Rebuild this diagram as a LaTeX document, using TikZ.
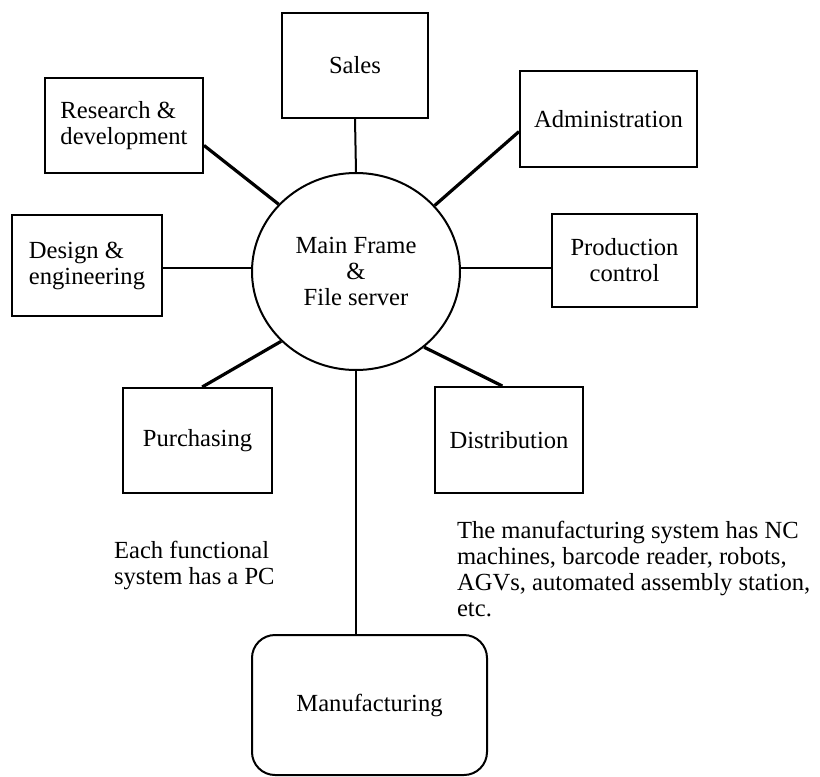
\documentclass[tikz,border=0pt]{standalone}
\usepackage{fontspec}
\setmainfont{Liberation Serif}
\usetikzlibrary{shapes.geometric}
\tikzset{
  unit/.style={draw, line width=1pt, inner sep=0pt, align=center},
  link/.style={line width=1pt},
  diag/.style={line width=1.6pt},
}

\begin{document}
\begin{tikzpicture}[x=0.5pt, y=-0.5pt, font=\fontsize{12.3}{13}\selectfont]
\useasboundingbox (0,0) rectangle (820,777);

\node[unit, ellipse, minimum width=104pt, minimum height=98.5pt] (mf) at (356,271.5) {Main Frame\\\&\\File server};

\node[unit, minimum width=73pt, minimum height=52.5pt] (sales) at (355,65.5) {Sales};
\node[unit, align=left, minimum width=79pt, minimum height=47.5pt] (rnd) at (124,125.5) {Research \&\\development};
\node[unit, minimum width=88.5pt, minimum height=48pt] (admin) at (608.5,119) {Administration};
\node[unit, align=left, minimum width=75pt, minimum height=50.5pt] (design) at (87,265.5) {Design \&\\engineering};
\node[unit, minimum width=72.5pt, minimum height=46.5pt] (prod) at (624.5,260.5) {Production\\control};
\node[unit, minimum width=74.5pt, minimum height=52.5pt] (purch) at (197.5,440.5) {Purchasing};
\node[unit, minimum width=74pt, minimum height=53pt] (dist) at (509,440) {Distribution};
\node[unit, rounded corners=11.5pt, minimum width=117.5pt, minimum height=70pt] (manuf) at (369.5,705) {Manufacturing};

%\fill (mf) circle(3pt);
\draw[link] (sales.south) -- (mf.north);
\draw[diag] (rnd.-14) -- (mf.139.5);
\draw[diag] (admin.188) -- (mf.40.5);
\draw[link] (mf.178) -- (mf.178 -| design.east);
\draw[link] (mf.2) -- (mf.2 -| prod.west);
\draw[diag] (mf.223) -- (purch.85);
\draw[diag] (mf.312.5) -- (dist.97);
\draw[link] (mf.south) -- (mf.south |- manuf.north);

\node[anchor=west, align=left] (note) at (107,565) {Each functional\\system has a PC};
\node[anchor=west, align=left] (mnote) at (450,569) {The manufacturing system has NC\\machines, barcode reader, robots,\\AGVs, automated assembly station,\\etc.};
\end{tikzpicture}
\end{document}
